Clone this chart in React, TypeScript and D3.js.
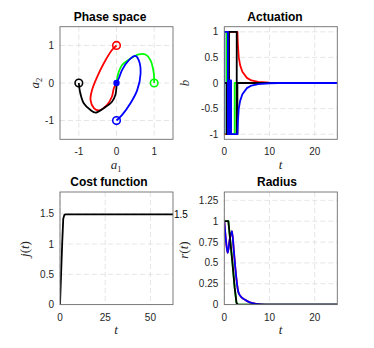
import React from 'react';
import * as d3 from 'd3';

type Pt = [number, number];

// ---- data ----
// phase space trajectories (a1, a2), each from its start circle to the origin
const phaseRed: Pt[] = [[0, 1], [-0.12, 0.88], [-0.34, 0.52], [-0.51, 0.17], [-0.65, -0.19], [-0.69, -0.45], [-0.6, -0.67], [-0.47, -0.73], [-0.25, -0.58], [-0.12, -0.36], [-0.07, -0.14], [0, 0]];
const phaseGreen: Pt[] = [[1, 0], [0.99, 0.26], [0.9, 0.61], [0.77, 0.76], [0.59, 0.76], [0.37, 0.65], [0.15, 0.48], [0.06, 0.3], [0.02, 0.12], [0, 0]];
const phaseBlue: Pt[] = [[0, -1], [0.15, -0.85], [0.37, -0.54], [0.55, -0.19], [0.64, 0.26], [0.59, 0.61], [0.5, 0.72], [0.33, 0.61], [0.15, 0.35], [0.06, 0.12], [0, 0]];
const phaseBlack: Pt[] = [[-1, 0], [-0.97, -0.23], [-0.87, -0.54], [-0.69, -0.72], [-0.56, -0.79], [-0.34, -0.67], [-0.12, -0.5], [-0.03, -0.32], [0, -0.1], [0, 0]];

// actuation b(t)
const actRed: Pt[] = [[0, -1], [0.7, -1], [0.7, 1], [2.9, 1], [3.0, 0.75], [3.2, 0.5], [3.5, 0.35], [4, 0.22], [5, 0.1], [6, 0.05], [7.5, 0.02], [10, 0.005], [12, 0], [25, 0]];
const actGreen: Pt[] = [[0, 1], [0.5, 1], [0.5, -1], [2.3, -1], [2.3, 0], [25, 0]];
const actBlack: Pt[] = [[0, 0], [0.55, 0], [0.55, -1], [1.05, -1], [1.05, 1], [2.75, 1], [2.75, -1], [2.9, -1], [2.9, 0], [25, 0]];
const actBlue: Pt[] = [[0, -1], [0, 1], [0.8, 1], [0.8, -1], [1.2, -1], [1.2, 0.05], [1.5, 0.05], [1.5, -1], [2.9, -1], [3.0, -0.75], [3.2, -0.5], [3.5, -0.35], [4, -0.22], [5, -0.1], [6, -0.05], [7.5, -0.02], [10, -0.005], [12, 0], [25, 0]];

// cost j(t)
const cost: Pt[] = [[0, 0], [0.6, 0.5], [1.2, 1.0], [1.8, 1.42], [2.4, 1.48], [3, 1.49], [62.5, 1.49]];
const costFinal = '1.5';

// radius r(t)
const radBlue: Pt[] = [[0, 1], [0.4, 0.75], [0.75, 0.62], [1.2, 0.78], [1.7, 0.88], [2.1, 0.65], [2.6, 0.35], [3.1, 0.15], [3.6, 0.1], [4.5, 0.06], [5.5, 0.03], [7, 0.01], [9, 0], [25, 0]];
const radBlack: Pt[] = [[0, 1], [0.9, 1], [1.3, 0.78], [1.8, 0.5], [2.3, 0.2], [2.7, 0.02], [3, 0], [25, 0]];

const phaseTicks = [-1, 0, 1];
const actXTicks = [0, 10, 20];
const actYTicks = [-1, -0.5, 0, 0.5, 1];
const costXTicks = [0, 25, 50];
const costYTicks = [0, 0.5, 1, 1.5];
const radYTicks = [0, 0.25, 0.5, 0.75, 1, 1.25];

const RED = '#ff0000', GREEN = '#00ff00', BLUE = '#0000ff', BLACK = '#000000';
const SANS = 'Liberation Sans, Arial, Helvetica, sans-serif';
const SERIF = 'Liberation Serif, DejaVu Serif, serif';

// axes boxes
const colX = [60, 224.3];
const colW = 113;
const rowY = [26.7, 192];
const rowH = 112.6;

function Panel(props: any) {
  const { id, x0, y0, xs, ys, xTicks, yTicks, title, titleX, titleY, children } = props;
  const w = colW, h = rowH;
  return (
    <g>
      <defs>
        <clipPath id={id}>
          <rect x={x0} y={y0} width={w} height={h} />
        </clipPath>
      </defs>
      <rect x={x0} y={y0} width={w} height={h} fill="#fff" />
      {xTicks.map((t: number) => (
        <line key={'gx' + t} x1={xs(t)} x2={xs(t)} y1={y0} y2={y0 + h} stroke="#dedede" strokeWidth={0.8} strokeDasharray="5,3" />
      ))}
      {yTicks.map((t: number) => (
        <line key={'gy' + t} x1={x0} x2={x0 + w} y1={ys(t)} y2={ys(t)} stroke="#dedede" strokeWidth={0.8} strokeDasharray="5,3" />
      ))}
      <g clipPath={`url(#${id})`}>{children}</g>
      <rect x={x0} y={y0} width={w} height={h} fill="none" stroke="#6e6e6e" strokeWidth={0.9} />
      {xTicks.map((t: number) => (
        <text key={'tx' + t} x={xs(t)} y={y0 + h + 16} fontSize={10} fontFamily={SANS} fill="#262626" textAnchor="middle">{String(t)}</text>
      ))}
      {yTicks.map((t: number) => (
        <text key={'ty' + t} x={x0 - 6} y={ys(t) + 3.6} fontSize={10} fontFamily={SANS} fill="#262626" textAnchor="end">{String(t)}</text>
      ))}
      <text x={titleX} y={titleY} fontSize={12} fontWeight="bold" fontFamily={SANS} fill="#000" textAnchor="middle">{title}</text>
    </g>
  );
}

function Curve({ data, xs, ys, color, curve }: any) {
  const gen = d3.line<Pt>().x(d => xs(d[0])).y(d => ys(d[1]));
  if (curve) gen.curve(curve);
  return <path d={gen(data) || ''} fill="none" stroke={color} strokeWidth={1.8} strokeLinejoin="round" />;
}

function Label({ x, y, parts, rotate }: any) {
  return (
    <text x={x} y={y} fontSize={13} fontFamily={SERIF} fill="#262626" textAnchor="middle" transform={rotate ? `rotate(-90 ${x} ${y})` : undefined}>
      {parts}
    </text>
  );
}

export default function App() {
  // phase space scales
  const px = d3.scaleLinear().domain([-1.5, 1.5]).range([colX[0], colX[0] + colW]);
  const py = d3.scaleLinear().domain([-1.5, 1.5]).range([rowY[0] + rowH, rowY[0]]);
  // actuation
  const ax = d3.scaleLinear().domain([0, 25]).range([colX[1], colX[1] + colW]);
  const ay = d3.scaleLinear().domain([-1.1, 1.1]).range([rowY[0] + rowH, rowY[0]]);
  // cost
  const cx = d3.scaleLinear().domain([0, 62.5]).range([colX[0], colX[0] + colW]);
  const cy = d3.scaleLinear().domain([0, 1.86]).range([rowY[1] + rowH, rowY[1]]);
  // radius
  const rx = d3.scaleLinear().domain([0, 25]).range([colX[1], colX[1] + colW]);
  const ry = d3.scaleLinear().domain([0, 1.35]).range([rowY[1] + rowH, rowY[1]]);

  const smooth = d3.curveCatmullRom.alpha(0.5);

  const phase = [
    { d: phaseRed, c: RED },
    { d: phaseGreen, c: GREEN },
    { d: phaseBlue, c: BLUE },
    { d: phaseBlack, c: BLACK },
  ];
  const act = [
    { d: actRed, c: RED },
    { d: actGreen, c: GREEN },
    { d: actBlack, c: BLACK },
    { d: actBlue, c: BLUE },
  ];
  const rad = [
    { d: radBlue, c: RED, k: d3.curveMonotoneX },
    { d: radBlack, c: GREEN, k: null },
    { d: radBlue, c: BLUE, k: d3.curveMonotoneX },
    { d: radBlack, c: BLACK, k: null },
  ];

  return (
    <svg width={374} height={348} style={{ position: 'fixed', left: 0, top: 0, background: '#fff' }}>
      <rect width={374} height={348} fill="#fff" />

      <Panel id="c1" x0={colX[0]} y0={rowY[0]} xs={px} ys={py} xTicks={phaseTicks} yTicks={phaseTicks} title="Phase space" titleX={110} titleY={20.5}>
        {phase.map((p, i) => <Curve key={i} data={p.d} xs={px} ys={py} color={p.c} curve={smooth} />)}
        {phase.map((p, i) => (
          <circle key={'s' + i} cx={px(p.d[0][0])} cy={py(p.d[0][1])} r={3.8} fill="none" stroke={p.c} strokeWidth={1.6} />
        ))}
        <circle cx={px(0)} cy={py(0)} r={3.2} fill={BLUE} />
      </Panel>

      <Panel id="c2" x0={colX[1]} y0={rowY[0]} xs={ax} ys={ay} xTicks={actXTicks} yTicks={actYTicks} title="Actuation" titleX={275} titleY={20.5}>
        {act.map((p, i) => <Curve key={i} data={p.d} xs={ax} ys={ay} color={p.c} />)}
      </Panel>

      <Panel id="c3" x0={colX[0]} y0={rowY[1]} xs={cx} ys={cy} xTicks={costXTicks} yTicks={costYTicks} title="Cost function" titleX={109} titleY={186}>
        <Curve data={cost} xs={cx} ys={cy} color={BLACK} />
      </Panel>
      <text x={colX[0] + colW + 1} y={cy(1.49) + 3.6} fontSize={10} fontFamily={SANS} fill="#000">{costFinal}</text>

      <Panel id="c4" x0={colX[1]} y0={rowY[1]} xs={rx} ys={ry} xTicks={actXTicks} yTicks={radYTicks} title="Radius" titleX={277} titleY={186}>
        {rad.map((p, i) => <Curve key={i} data={p.d} xs={rx} ys={ry} color={p.c} curve={p.k} />)}
      </Panel>

      {/* axis labels */}
      <Label x={116} y={169} parts={[<tspan key="a" fontStyle="italic">a</tspan>, <tspan key="s" fontSize={8.5} dy={2.5}>1</tspan>]} />
      <Label x={39} y={83} rotate parts={[<tspan key="a" fontStyle="italic">a</tspan>, <tspan key="s" fontSize={8.5} dy={2.5}>2</tspan>]} />
      <Label x={189} y={83} rotate parts={[<tspan key="b" fontStyle="italic">b</tspan>]} />
      <Label x={280.5} y={169} parts={[<tspan key="t" fontStyle="italic">t</tspan>]} />
      <Label x={29} y={249} rotate parts={[<tspan key="j" fontStyle="italic">j</tspan>, '(', <tspan key="t" fontStyle="italic">t</tspan>, ')']} />
      <Label x={116} y={334} parts={[<tspan key="t" fontStyle="italic">t</tspan>]} />
      <Label x={188} y={250} rotate parts={[<tspan key="r" fontStyle="italic">r</tspan>, '(', <tspan key="t" fontStyle="italic">t</tspan>, ')']} />
      <Label x={280.5} y={334} parts={[<tspan key="t" fontStyle="italic">t</tspan>]} />
    </svg>
  );
}
